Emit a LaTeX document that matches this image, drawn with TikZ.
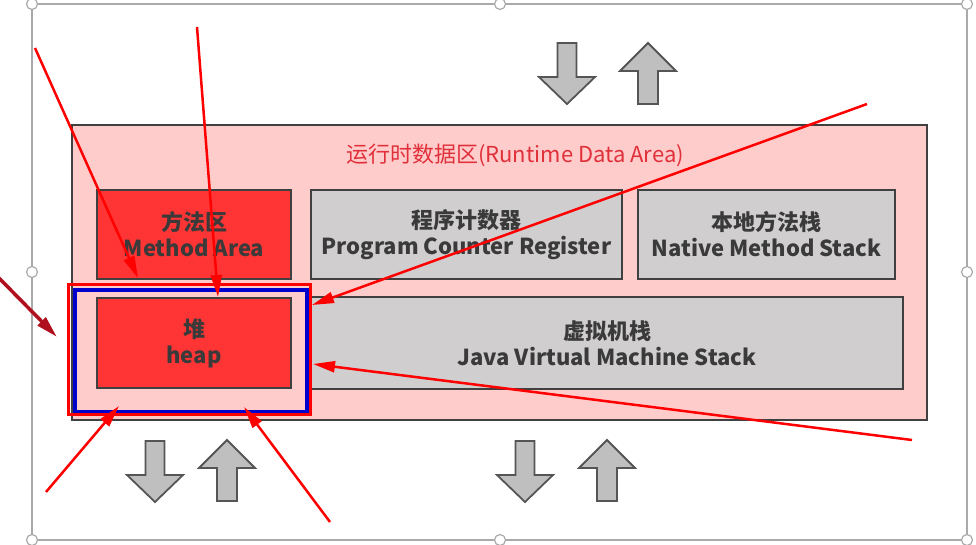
\documentclass[tikz,border=0pt]{standalone}
\usepackage{fontspec}
\setmainfont{Noto Sans CJK SC}
\usetikzlibrary{arrows.meta}
\definecolor{areapink}{HTML}{FFCCCC}
\definecolor{boxred}{HTML}{FF3535}
\definecolor{boxgrey}{HTML}{D0CECE}
\definecolor{boxline}{HTML}{404040}
\definecolor{boxtext}{HTML}{3A3A3A}
\definecolor{titlered}{HTML}{E0303A}
\definecolor{framered}{HTML}{FF0000}
\definecolor{frameblue}{HTML}{0000CC}
\definecolor{darkred}{HTML}{B0101E}
\definecolor{arrowgrey}{HTML}{BFBFBF}
\definecolor{arrowline}{HTML}{555555}
\definecolor{selgrey}{HTML}{AAAAAA}
\tikzset{
  area/.style={draw=boxline, line width=2.5pt, fill=areapink, inner sep=0pt},
  membox/.style={draw=boxline, line width=2.5pt, text=boxtext, align=center,
    font=\fontsize{22}{26}\selectfont\bfseries, inner sep=0pt},
  redbox/.style={membox, fill=boxred},
  greybox/.style={membox, fill=boxgrey},
  note/.style={draw=framered, line width=2.5pt, -{Triangle[length=22pt,width=11pt]}},
  blockarrow/.style={draw=arrowline, fill=arrowgrey, line width=1.8pt, line join=miter},
  selframe/.style={draw=selgrey, line width=1.5pt},
  handle/.style={draw=selgrey, fill=white, line width=1.2pt},
}
\begin{document}
\begin{tikzpicture}[x=1pt,y=-1pt]
\useasboundingbox (0,0) rectangle (976,545);
% selection frame of the slide object
\draw[selframe] (32,4) rectangle (967,540);
\foreach \hx/\hy in {32/4,500/4,967/4,32/272,967/272,32/540,500/540,967/540}
  \filldraw[handle] (\hx,\hy) circle (5.5pt);
% block arrows
\foreach \ax/\ay in {567/43,155/441,525/441}
  \draw[blockarrow] (\ax-9.5,\ay) -- (\ax+9.5,\ay) -- (\ax+9.5,\ay+34) -- (\ax+28,\ay+34)
    -- (\ax,\ay+61) -- (\ax-28,\ay+34) -- (\ax-9.5,\ay+34) -- cycle;
\foreach \ax/\ay in {648/43,227/440,607/440}
  \draw[blockarrow] (\ax,\ay) -- (\ax+28,\ay+28) -- (\ax+10,\ay+28) -- (\ax+10,\ay+61)
    -- (\ax-10,\ay+61) -- (\ax-10,\ay+28) -- (\ax-28,\ay+28) -- cycle;
% runtime data area
\node[area, minimum width=855pt, minimum height=295pt] (rda) at (499.5,272.5) {};
\node[text=titlered, font=\fontsize{22}{26}\selectfont, anchor=base] (title) at (515,163) {运行时数据区(Runtime Data Area)};
\node[redbox, minimum width=194pt, minimum height=89pt] (method) at (194,234.5) {方法区\\Method Area};
\node[greybox, minimum width=311pt, minimum height=89pt] (pc) at (466.5,234.5) {程序计数器\\Program Counter Register};
\node[greybox, minimum width=257pt, minimum height=89pt] (native) at (766.5,234.5) {本地方法栈\\Native Method Stack};
\node[redbox, minimum width=194pt, minimum height=90pt] (heap) at (194,343) {堆\\heap};
\node[greybox, minimum width=592pt, minimum height=92pt] (jvms) at (607,343) {虚拟机栈\\Java Virtual Machine Stack};
% frames round the heap
\node[draw=frameblue, line width=3.5pt, minimum width=232pt, minimum height=122pt] (heapblue) at (191,351) {};
\node[draw=framered, line width=3pt, minimum width=242pt, minimum height=130pt] (heapred) at (189,349) {};
% annotation arrows
\coordinate (n1s) at (35,48);   \coordinate (n1e) at (138,278);
\coordinate (n2s) at (197,27);  \coordinate (n2e) at (218,297);
\coordinate (n3s) at (867,104); \coordinate (n3e) at (312,305);
\coordinate (n4s) at (912,440); \coordinate (n4e) at (313,364);
\coordinate (n5s) at (46,492);  \coordinate (n5e) at (119,406);
\coordinate (n6s) at (330,522); \coordinate (n6e) at (244,407);
\coordinate (n7s) at (-2,277);  \coordinate (n7e) at (57,337);
\draw[note] (n1s) -- (n1e);
\draw[note] (n2s) -- (n2e);
\draw[note] (n3s) -- (n3e);
\draw[note] (n4s) -- (n4e);
\draw[note] (n5s) -- (n5e);
\draw[note] (n6s) -- (n6e);
\draw[note, draw=darkred, line width=3.5pt] (n7s) -- (n7e);
\end{tikzpicture}
\end{document}
